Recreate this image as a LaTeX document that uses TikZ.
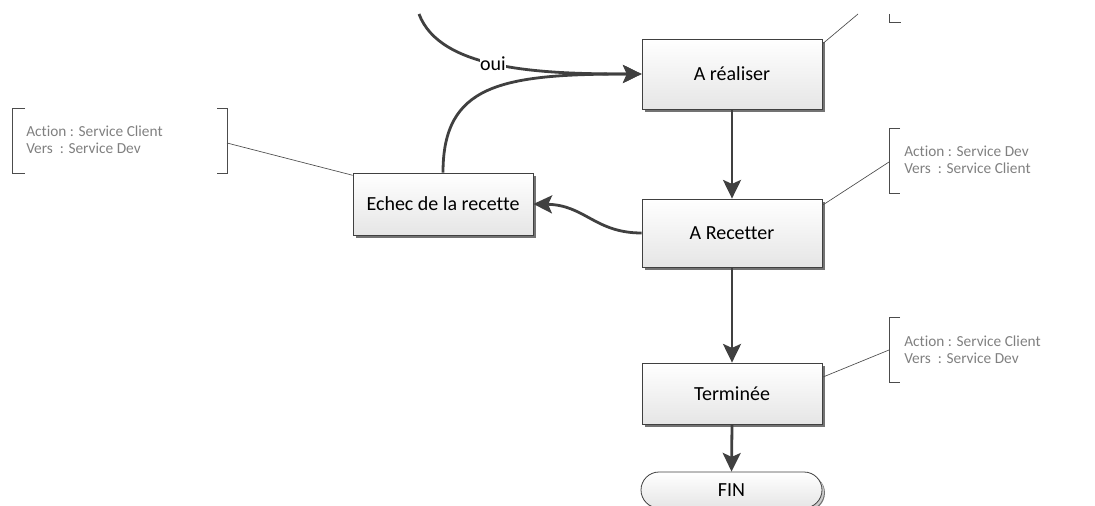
\documentclass[tikz,border=0pt]{standalone}
\usepackage{fontspec}
\setmainfont{Carlito}[Ligatures=NoCommon]
\usetikzlibrary{arrows.meta,shadows,shapes.misc}
\begin{document}
\begin{tikzpicture}[x=0.75pt,y=-0.75pt,
  proc/.style={draw=black!75, line width=0.6pt, top color=white, bottom color=black!10,
    minimum width=135pt, inner sep=0pt, font=\fontsize{15}{17}\selectfont,
    drop shadow={shadow xshift=2.2pt, shadow yshift=-2.2pt, fill=black!55, opacity=1}},
  flow/.style={draw=black!75, line width=2.1pt, -{Stealth[length=14pt,width=13.5pt,inset=3pt]}},
  note/.style={anchor=west, align=left, text=black!50, font=\fontsize{11.5}{12.75}\selectfont, inner sep=0pt},
  bracket/.style={draw=black!70, line width=0.6pt},
  link/.style={draw=black!70, line width=0.5pt}]
\useasboundingbox (0,0) rectangle (1095,506);

% process boxes
\node[proc, minimum height=52.5pt] (realiser) at (732,74) {A réaliser};
\node[proc, minimum height=51pt] (recetter) at (732,233) {A Recetter};
\node[proc, minimum height=45.75pt] (terminee) at (732,393.5) {Terminée};
\node[proc, minimum height=46.5pt] (echec) at (443,204) {Echec de la recette};
\node[proc, rounded rectangle, minimum height=27pt, minimum width=135.75pt,
  drop shadow={shadow xshift=1.5pt, shadow yshift=-1.5pt, fill=black!20, opacity=1}] (fin) at (731.5,490) {FIN};

% flow connectors
\coordinate (start) at (419,14);
\draw[flow] (start) .. controls (440,70) and (540,74) .. node[pos=0.47, fill=white, inner sep=0.3pt, font=\fontsize{15}{17}\selectfont]{oui} (realiser.west);
\draw[flow] (echec.north) .. controls (443,85) and (500,74) .. (realiser.west);
\draw[flow] (realiser.south) -- (recetter.north);
\draw[flow] (recetter.west) .. controls (595,233) and (585,205) .. (echec.east);
\draw[flow] (recetter.south) -- (terminee.north);
\draw[flow] (terminee.south) -- (fin.north);

% annotation: Echec
\draw[bracket] (25,108) -- (12,108) -- (12,173) -- (25,173);
\draw[bracket] (217,108) -- (227,108) -- (227,173) -- (217,173);
\node[note] (t1) at (26,139.5) {Action : Service Client\\Vers\ \ : Service Dev};
\coordinate (b1) at (227,143);
\draw[link] (b1) -- ([yshift=-2pt]echec.north west);

% annotation: A Recetter
\draw[bracket] (900,128) -- (889,128) -- (889,193) -- (900,193);
\node[note] (t2) at (904,159.5) {Action : Service Dev\\Vers\ \ : Service Client};
\coordinate (b2) at (889,162);
\draw[link] ([yshift=-5pt]recetter.north east) -- (b2);

% annotation: Terminee
\draw[bracket] (900,317) -- (889,317) -- (889,382) -- (900,382);
\node[note] (t3) at (904,350) {Action : Service Client\\Vers\ \ : Service Dev};
\coordinate (b3) at (889,350);
\draw[link] ([yshift=-11pt]terminee.north east) -- (b3);

% annotation: A realiser (cut off)
\draw[bracket] (889,14) -- (889,22) -- (901,22);
\coordinate (b4) at (858,14);
\draw[link] ([yshift=-4pt]realiser.north east) -- (b4);
\end{tikzpicture}
\end{document}
